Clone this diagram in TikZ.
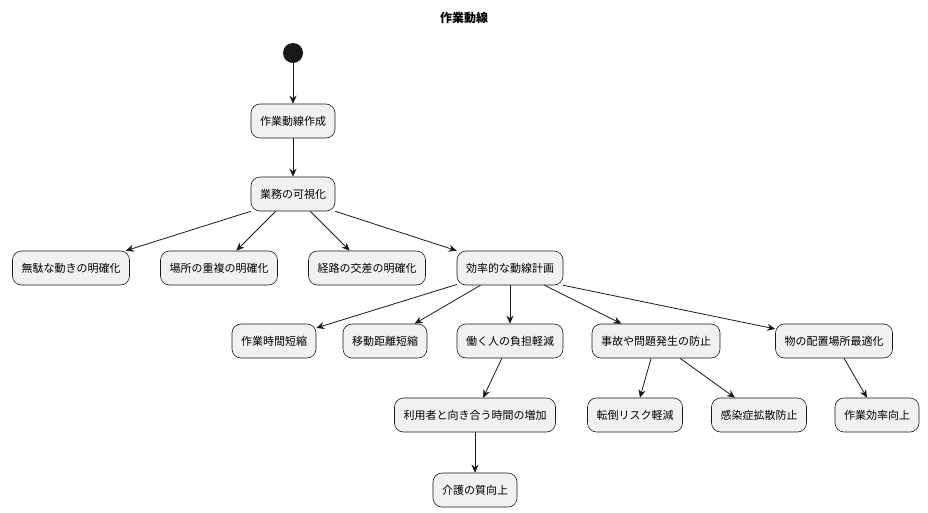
\documentclass[tikz,border=0pt]{standalone}
\usepackage{fontspec}
\setmainfont{Noto Sans CJK JP}
\usetikzlibrary{arrows.meta}
\definecolor{boxfill}{HTML}{F1F1F1}
\definecolor{edge}{HTML}{181818}
\tikzset{
  act/.style={draw=edge, fill=boxfill, rounded corners=9pt, minimum height=34pt, inner xsep=9pt, font=\fontsize{11}{13}\selectfont, line width=0.6pt},
  conn/.style={draw=edge, line width=0.8pt, -{Stealth[length=8pt,width=7pt]}}
}
\begin{document}
\begin{tikzpicture}[x=1pt,y=-1pt]
\useasboundingbox (0,0) rectangle (928,512);
\node[font=\bfseries\fontsize{12}{14}\selectfont] (title) at (464,18) {作業動線};
\node[circle, fill=edge, minimum size=20pt, inner sep=0] (s) at (293,53) {};
\node[act] (a) at (293,121) {作業動線作成};
\node[act] (b) at (293,194) {業務の可視化};
\node[act] (c1) at (71,268) {無駄な動きの明確化};
\node[act] (c2) at (219,268) {場所の重複の明確化};
\node[act] (c3) at (367,268) {経路の交差の明確化};
\node[act] (c4) at (510,268) {効率的な動線計画};
\node[act] (d1) at (274,341) {作業時間短縮};
\node[act] (d2) at (385,341) {移動距離短縮};
\node[act] (d3) at (510,341) {働く人の負担軽減};
\node[act] (d4) at (656,341) {事故や問題発生の防止};
\node[act] (d5) at (834,341) {物の配置場所最適化};
\node[act] (e1) at (475,415) {利用者と向き合う時間の増加};
\node[act] (e2) at (635,415) {転倒リスク軽減};
\node[act] (e3) at (759,415) {感染症拡散防止};
\node[act] (e4) at (877,415) {作業効率向上};
\node[act] (f) at (475,490) {介護の質向上};
\draw[conn] (s) -- (a);
\draw[conn] (a) -- (b);
\draw[conn] (b.south west) ++(0,-0) -- (c1);
\draw[conn] (b) -- (c2);
\draw[conn] (b) -- (c3);
\draw[conn] (b.south east) -- (c4);
\draw[conn] (c4) -- (d1);
\draw[conn] (c4) -- (d2);
\draw[conn] (c4) -- (d3);
\draw[conn] (c4) -- (d4);
\draw[conn] (c4.south east) -- (d5);
\draw[conn] (d3) -- (e1);
\draw[conn] (d4) -- (e2);
\draw[conn] (d4) -- (e3);
\draw[conn] (d5) -- (e4);
\draw[conn] (e1) -- (f);
\end{tikzpicture}
\end{document}
